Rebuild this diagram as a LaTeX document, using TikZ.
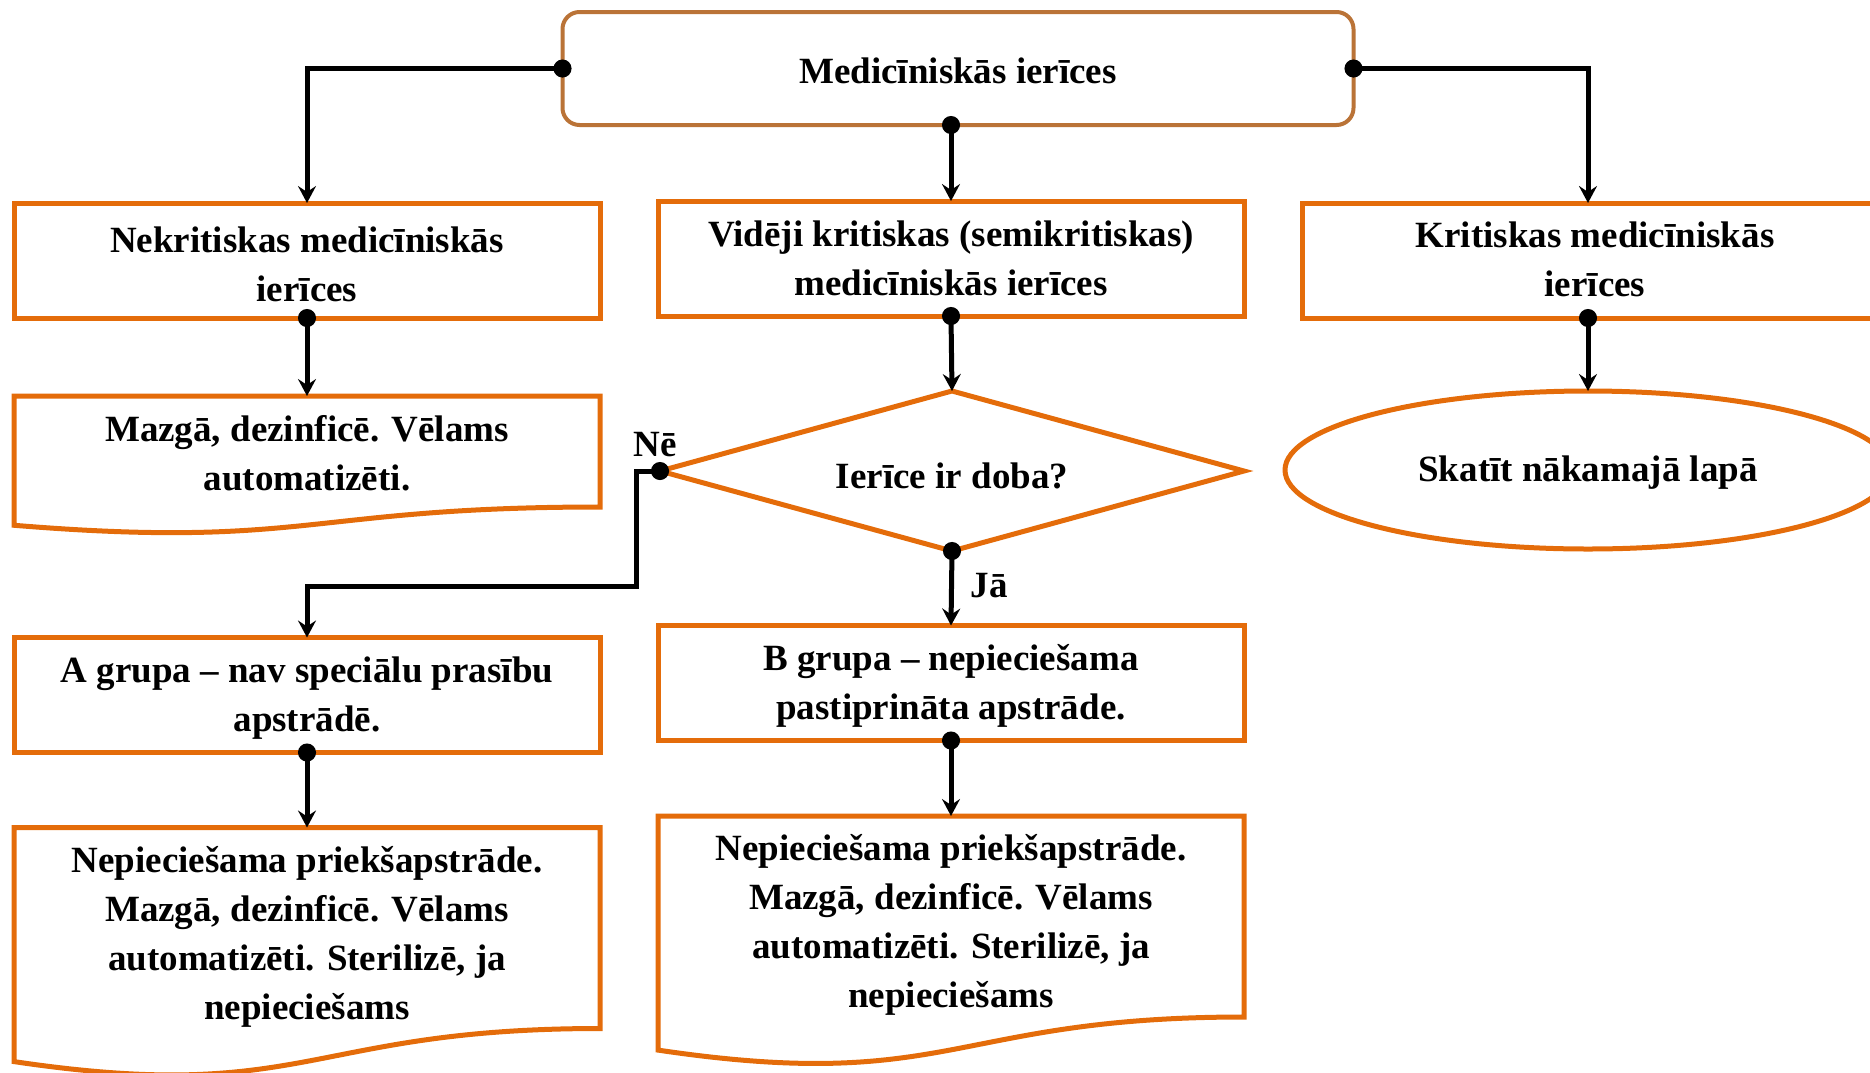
\documentclass[tikz,border=0pt]{standalone}
\usepackage{fontspec}
\setmainfont{Liberation Serif}
\usetikzlibrary{shapes.geometric,arrows.meta,calc}
\definecolor{boxorange}{RGB}{228,108,10}
\definecolor{rootbrown}{RGB}{186,115,55}

% struts that fix where the text lines sit in a box
\newcommand{\hstrut}[1]{\rule{0pt}{#1pt}}
\newcommand{\dstrut}{\rule[-4.5pt]{0pt}{0pt}}

% wavy bottom of a document box, drawn round the named node
\newcommand{\docbox}[1]{%
  \draw[docline] ($(#1.south west)!-0.1646!(#1.north west)$) -- (#1.north west)
    -- (#1.north east) -- (#1.south east)
    .. controls (#1.south) and ($(#1.south)!-0.381!(#1.north)$)
    .. ($(#1.south west)!-0.1646!(#1.north west)$) -- cycle;}

\begin{document}
\begin{tikzpicture}[x=0.5pt,y=-0.5pt,
  every node/.style={font=\fontsize{18.5}{24.5}\selectfont\bfseries, align=center},
  box/.style={draw=boxorange, line width=2.5pt, minimum width=293pt,
    minimum height=57.5pt, inner sep=0pt, outer sep=0pt},
  doc/.style={minimum width=293pt, inner sep=0pt, outer sep=0pt},
  docline/.style={draw=boxorange, line width=2.5pt},
  conn/.style={line width=2.5pt, shorten <=-4.5pt,
    {Circle[length=9pt]}-{Stealth[length=8.5pt,width=9pt,inset=3pt]}}]
  \useasboundingbox (0,0) rectangle (1870,1072);

  \node[draw=rootbrown, line width=2pt, rounded corners=8.5pt, minimum width=395.5pt,
    minimum height=56.5pt, inner sep=0pt, outer sep=0pt] (med) at (958,68.5)
    {\hstrut{19}Medicīniskās ierīces\dstrut};

  \node[box] (nekrit) at (307,260.5) {\hstrut{21.4}Nekritiskas medicīniskās\\ierīces\dstrut};
  \node[box] (videji) at (951,258.5) {\hstrut{17}Vidēji kritiskas (semikritiskas)\\medicīniskās ierīces\dstrut};
  \node[box] (krit) at (1595,260.5) {\hstrut{15.6}Kritiskas medicīniskās\\ierīces\dstrut};

  \node[doc, minimum height=55.5pt] (mazga) at (307,451.5)
    {\hstrut{18.5}Mazgā, dezinficē. Vēlams\\automatizēti.\dstrut};
  \docbox{mazga}
  \node[diamond, shape aspect=3.65, draw=boxorange, line width=2.5pt, minimum width=292pt,
    minimum height=80pt, inner sep=0pt, outer sep=0pt] (doba) at (952,471)
    {\hstrut{21.5}Ierīce ir doba?\dstrut};
  \node[ellipse, draw=boxorange, line width=2.5pt, minimum width=303pt, minimum height=79pt,
    inner sep=0pt, outer sep=0pt] (skatit) at (1588,470) {\hstrut{15.5}Skatīt nākamajā lapā\dstrut};

  \node[box] (agrupa) at (307,695) {\hstrut{16}A grupa – nav speciālu prasību\\apstrādē.\dstrut};
  \node[box] (bgrupa) at (951,683) {\hstrut{16.6}B grupa – nepieciešama\\pastiprināta apstrāde.\dstrut};

  \node[doc, minimum height=100pt] (adoc) at (307,928)
    {\hstrut{22.5}Nepieciešama priekšapstrāde.\\Mazgā, dezinficē. Vēlams\\automatizēti. Sterilizē, ja\\nepieciešams\dstrut};
  \docbox{adoc}
  \node[doc, minimum height=100.5pt] (bdoc) at (951,916.5)
    {\hstrut{22.2}Nepieciešama priekšapstrāde.\\Mazgā, dezinficē. Vēlams\\automatizēti. Sterilizē, ja\\nepieciešams\dstrut};
  \docbox{bdoc}

  \node (ne) at (655,445) {Nē};
  \node (ja) at (989,586) {Jā};

  \coordinate (bend) at (636,586);
  \draw[conn] (med.west) -| (nekrit.north);
  \draw[conn] (med.east) -| (skatit.north |- krit.north);
  \draw[conn] (med.south -| videji.north) -- (videji.north);
  \draw[conn] (nekrit.south) -- (mazga.north);
  \draw[conn] (videji.south) -- (doba.north);
  \draw[conn] (krit.south -| skatit.north) -- (skatit.north);
  \draw[conn] (doba.west) -| (bend) -| (agrupa.north);
  \draw[conn] (doba.south) -- (bgrupa.north);
  \draw[conn] (agrupa.south) -- (adoc.north);
  \draw[conn] (bgrupa.south) -- (bdoc.north);
\end{tikzpicture}
\end{document}
